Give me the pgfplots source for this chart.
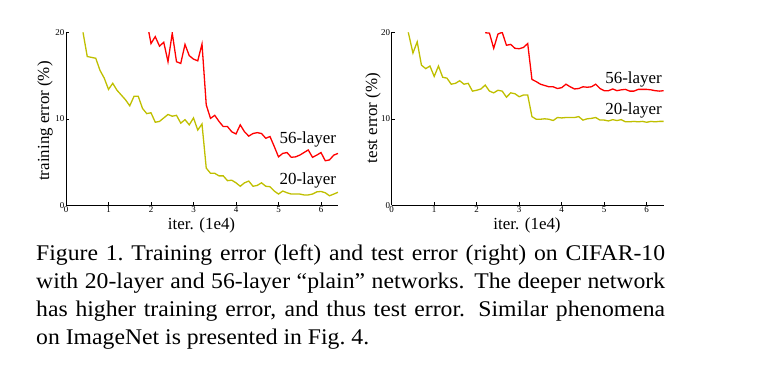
\documentclass[border=0pt]{standalone}
\usepackage{fontspec}
\setmainfont{Liberation Serif}
\usepackage{pgfplots}
\pgfplotsset{compat=1.18}
\definecolor{ylw}{rgb}{0.75,0.75,0}
\definecolor{rd}{rgb}{1,0,0}
\pgfplotsset{
  errax/.style={
    scale only axis, width=272bp, height=173bp,
    xmin=0, xmax=6.4, ymin=0, ymax=20,
    axis x line=bottom, axis y line=left,
    x axis line style={-, line width=0.8bp},
    y axis line style={-, line width=0.8bp},
    xtick={0,1,2,3,4,5,6}, ytick={0,10,20},
    tick align=inside, major tick length=3bp,
    tick style={black, line width=0.6bp},
    /pgf/number format/assume math mode=true,
    tick label style={font=\fontsize{9}{10}\selectfont},
    xticklabel style={inner sep=1bp},
    yticklabel style={inner sep=1.5bp},
    clip=true,
  },
}
\newcommand{\capline}[1]{\scalebox{1.057}[1]{\makebox[595bp][s]{#1}}}
\begin{document}
\begin{tikzpicture}
\useasboundingbox (0,0) rectangle (761bp,-379bp);
% left
\begin{axis}[errax, anchor=south west, at={(66bp,-205.3bp)}]
\addplot[ylw, line width=1.3bp] coordinates {
(0.4,20.0)(0.5,17.2)(0.6,17.1)(0.7,17.0)(0.8,15.6)(0.9,14.7)(1.0,13.4)(1.1,14.1)(1.2,13.3)(1.3,12.75)
(1.4,12.2)(1.5,11.5)(1.6,12.6)(1.7,12.6)(1.8,11.2)(1.9,10.6)(2.0,10.7)(2.1,9.6)(2.2,9.7)(2.3,10.1)
(2.4,10.5)(2.5,10.3)(2.6,10.4)(2.7,9.5)(2.8,9.9)(2.9,9.3)(3.0,10.1)(3.1,8.7)(3.2,9.4)(3.3,4.3)
(3.4,3.7)(3.5,3.7)(3.6,3.4)(3.7,3.4)(3.8,2.85)(3.9,2.9)(4.0,2.6)(4.1,2.2)(4.2,2.6)(4.3,2.8)
(4.4,2.2)(4.5,2.3)(4.6,2.6)(4.7,2.2)(4.8,2.15)(4.9,1.65)(5.0,1.3)(5.1,1.65)(5.2,1.45)(5.3,1.3)
(5.4,1.3)(5.5,1.3)(5.6,1.2)(5.7,1.2)(5.8,1.3)(5.9,1.55)(6.0,1.6)(6.1,1.45)(6.2,1.1)(6.3,1.3)(6.4,1.5)
};
\addplot[rd, line width=1.3bp] coordinates {
(1.9,21.3)(2.0,18.7)(2.1,19.5)(2.2,18.4)(2.3,18.85)(2.4,16.6)(2.5,19.9)(2.6,16.6)(2.7,16.4)(2.8,18.6)
(2.9,17.3)(3.0,16.9)(3.1,16.7)(3.2,18.65)(3.3,11.6)(3.4,10.05)(3.5,10.4)(3.6,9.7)(3.7,9.1)(3.8,9.1)
(3.9,8.5)(4.0,8.25)(4.1,9.3)(4.2,8.5)(4.3,8.0)(4.4,8.3)(4.5,8.4)(4.6,8.3)(4.7,7.75)(4.8,7.95)
(4.9,6.8)(5.0,5.6)(5.1,6.0)(5.2,6.1)(5.3,5.55)(5.4,5.6)(5.5,5.8)(5.6,6.1)(5.7,6.4)(5.8,5.55)
(5.9,5.8)(6.0,6.1)(6.1,5.15)(6.2,5.25)(6.3,5.8)(6.4,6.0)
};
\node[anchor=base, font=\fontsize{17}{18}\selectfont, inner sep=0pt] at (axis cs:5.69,7.09) {56-layer};
\node[anchor=base, font=\fontsize{17}{18}\selectfont, inner sep=0pt] at (axis cs:5.69,2.35) {20-layer};
\end{axis}
% right
\begin{axis}[errax, anchor=south west, at={(391.7bp,-205.3bp)}]
\addplot[ylw, line width=1.3bp] coordinates {
(0.39,20.0)(0.5,17.6)(0.6,18.9)(0.7,16.2)(0.8,15.8)(0.9,16.1)(1.0,14.9)(1.1,16.1)(1.2,14.8)(1.3,14.7)
(1.4,14.0)(1.5,14.1)(1.6,14.4)(1.7,14.0)(1.8,14.1)(1.9,13.2)(2.0,13.3)(2.1,13.45)(2.2,13.9)(2.3,13.2)
(2.4,13.0)(2.5,13.3)(2.6,13.2)(2.7,12.5)(2.8,13.0)(2.9,12.9)(3.0,12.55)(3.1,12.75)(3.2,12.75)(3.3,10.25)
(3.4,9.95)(3.5,9.95)(3.6,10.0)(3.7,9.95)(3.8,9.8)(3.9,10.15)(4.0,10.1)(4.1,10.15)(4.2,10.15)(4.3,10.15)
(4.4,10.25)(4.5,9.85)(4.6,10.0)(4.7,10.05)(4.8,10.15)(4.9,9.85)(5.0,9.85)(5.1,9.75)(5.2,9.9)(5.3,9.8)
(5.4,9.9)(5.5,9.65)(5.6,9.65)(5.7,9.7)(5.8,9.65)(5.9,9.7)(6.0,9.6)(6.1,9.7)(6.2,9.65)(6.3,9.7)(6.4,9.7)
};
\addplot[rd, line width=1.3bp] coordinates {
(2.2,19.95)(2.3,19.9)(2.4,18.15)(2.5,19.8)(2.6,20.0)(2.7,18.5)(2.8,18.6)(2.9,18.15)(3.0,18.1)(3.1,18.25)
(3.2,18.7)(3.3,14.55)(3.4,14.3)(3.5,14.0)(3.6,13.85)(3.7,13.7)(3.8,13.7)(3.9,13.5)(4.0,13.6)(4.1,14.0)
(4.2,13.7)(4.3,13.45)(4.4,13.5)(4.5,13.7)(4.6,13.65)(4.7,13.7)(4.8,14.0)(4.9,13.5)(5.0,13.25)(5.1,13.25)
(5.2,13.45)(5.3,13.25)(5.4,13.35)(5.5,13.4)(5.6,13.2)(5.7,13.2)(5.8,13.4)(5.9,13.4)(6.0,13.4)(6.1,13.35)
(6.2,13.25)(6.3,13.2)(6.4,13.25)
};
\node[anchor=base, font=\fontsize{17}{18}\selectfont, inner sep=0pt] at (axis cs:5.69,14.1) {56-layer};
\node[anchor=base, font=\fontsize{17}{18}\selectfont, inner sep=0pt] at (axis cs:5.69,10.44) {20-layer};
\end{axis}
% axis labels
\node[rotate=90, font=\fontsize{17}{18}\selectfont, inner sep=0pt] at (45bp,-121bp) {training error (\%)};
\node[rotate=90, font=\fontsize{17}{18}\selectfont, inner sep=0pt] at (373bp,-118bp) {test error (\%)};
\node[anchor=base, font=\fontsize{17}{18}\selectfont, inner sep=0pt] at (201.5bp,-229bp) {iter. (1e4)};
\node[anchor=base, font=\fontsize{17}{18}\selectfont, inner sep=0pt] at (527bp,-229bp) {iter. (1e4)};
% caption
\begin{scope}[every node/.style={anchor=base west, inner sep=0pt, font=\fontsize{22.5}{27}\selectfont}]
\node at (36bp,-260bp) {\capline{Figure 1.\ Training error (left) and test error (right) on CIFAR-10}};
\node at (36bp,-288.3bp) {\capline{with 20-layer and 56-layer “plain” networks. The deeper network}};
\node at (36bp,-316.6bp) {\capline{has higher training error, and thus test error. Similar phenomena}};
\node at (36bp,-344.9bp) {\scalebox{1.057}[1]{on ImageNet is presented in Fig.\ 4.}};
\end{scope}
\end{tikzpicture}
\end{document}
